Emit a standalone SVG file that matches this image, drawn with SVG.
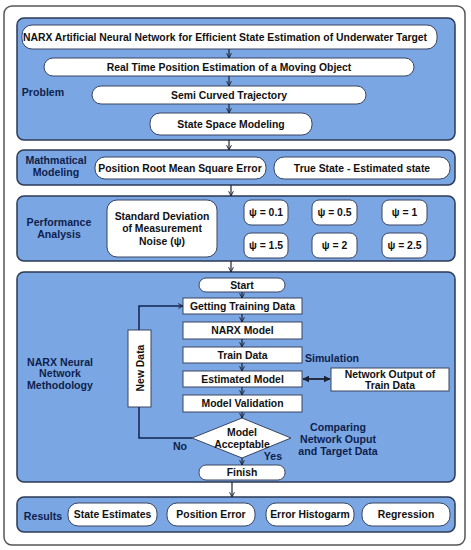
<svg xmlns="http://www.w3.org/2000/svg" width="471" height="550" viewBox="0 0 471 550">
<defs>
<marker id="ah" viewBox="0 0 10 10" refX="9" refY="5" markerWidth="6" markerHeight="6" orient="auto-start-reverse" markerUnits="userSpaceOnUse">
<path d="M1,1 L9,5 L1,9" fill="none" stroke="#1a2233" stroke-width="1.6"/>
</marker>
<marker id="ahs" viewBox="0 0 10 10" refX="9" refY="5" markerWidth="7" markerHeight="7" orient="auto-start-reverse" markerUnits="userSpaceOnUse">
<path d="M0,0 L10,5 L0,10 Z" fill="#1a2233"/>
</marker>
</defs>
<style>
.panel{fill:#7aa6e4;stroke:#2c3a55;stroke-width:1.5}
.box{fill:#ffffff;stroke:#3a4560;stroke-width:1}
.t{font-family:"Liberation Sans",Arial,sans-serif;font-weight:bold;font-size:10.4px;fill:#111;text-anchor:middle;dominant-baseline:central}
.lbl{font-family:"Liberation Sans",Arial,sans-serif;font-weight:bold;font-size:10.6px;fill:#0f1f4d;text-anchor:middle;dominant-baseline:central}
.ln{fill:none;stroke:#1a2233;stroke-width:1.2}
.nav{fill:none;stroke:#12254f;stroke-width:1.5}
</style>
<rect x="4" y="6" width="461" height="539" rx="8" fill="#ffffff" stroke="#555" stroke-width="1.5"/>

<g id="panel-problem">
<rect class="panel" x="17" y="18" width="438" height="122" rx="7"/>
<text class="lbl" x="43" y="92">Problem</text>
</g>
<g id="n-title"><rect class="box" x="22" y="25" width="415" height="24" rx="10"/><text class="t" x="225" y="37" font-size="10.1">NARX Artificial Neural Network for Efficient State Estimation of Underwater Target</text></g>
<g id="n-realtime"><rect class="box" x="44" y="58" width="370" height="18" rx="9"/><text class="t" x="229" y="67">Real Time Position Estimation of a Moving Object</text></g>
<g id="n-semi"><rect class="box" x="92" y="86" width="274" height="18" rx="9"/><text class="t" x="229" y="95">Semi Curved Trajectory</text></g>
<g id="n-ssm"><rect class="box" x="150" y="113" width="162" height="22" rx="10"/><text class="t" x="231" y="124">State Space Modeling</text></g>

<g id="panel-math">
<rect class="panel" x="17" y="150" width="438" height="35" rx="7"/>
<text class="lbl" x="56" y="160">Mathmatical</text>
<text class="lbl" x="56" y="172">Modeling</text>
</g>
<g id="n-prmse"><rect class="box" x="95" y="157" width="171" height="22" rx="10"/><text class="t" x="180" y="168">Position Root Mean Square Error</text></g>
<g id="n-truestate"><rect class="box" x="274" y="157" width="176" height="22" rx="10"/><text class="t" x="362" y="168">True State - Estimated state</text></g>

<g id="panel-perf">
<rect class="panel" x="17" y="196" width="438" height="65" rx="7"/>
<text class="lbl" x="59" y="222">Performance</text>
<text class="lbl" x="59" y="234">Analysis</text>
</g>
<g id="n-sd"><rect class="box" x="107" y="200" width="110" height="57" rx="10"/><text class="t" x="162" y="216">Standard Deviation</text><text class="t" x="162" y="228">of Measurement</text><text class="t" x="162" y="241">Noise (ψ)</text></g>
<g id="n-p01"><rect class="box" x="244" y="200" width="44" height="25" rx="7"/><text class="t" x="266" y="212.5" font-size="9.5">ψ = 0.1</text></g>
<g id="n-p05"><rect class="box" x="312" y="200" width="45" height="25" rx="7"/><text class="t" x="334.5" y="212.5" font-size="9.5">ψ = 0.5</text></g>
<g id="n-p1"><rect class="box" x="382" y="200" width="45" height="25" rx="7"/><text class="t" x="404.5" y="212.5" font-size="9.5">ψ = 1</text></g>
<g id="n-p15"><rect class="box" x="244" y="233" width="44" height="25" rx="7"/><text class="t" x="266" y="245.5" font-size="9.5">ψ = 1.5</text></g>
<g id="n-p2"><rect class="box" x="312" y="233" width="45" height="25" rx="7"/><text class="t" x="334.5" y="245.5" font-size="9.5">ψ = 2</text></g>
<g id="n-p25"><rect class="box" x="382" y="233" width="45" height="25" rx="7"/><text class="t" x="404.5" y="245.5" font-size="9.5">ψ = 2.5</text></g>

<g id="panel-narx">
<rect class="panel" x="17" y="272" width="438" height="210" rx="7"/>
<text class="lbl" x="60" y="362">NARX Neural</text>
<text class="lbl" x="60" y="373">Network</text>
<text class="lbl" x="60" y="385">Methodology</text>
<text class="lbl" x="332" y="358">Simulation</text>
<text class="lbl" x="338" y="427">Comparing</text>
<text class="lbl" x="338" y="439">Network Ouput</text>
<text class="lbl" x="338" y="451">and Target Data</text>
<text class="lbl" x="180" y="446">No</text>
<text class="lbl" x="273" y="456">Yes</text>
</g>
<g id="n-start"><rect class="box" x="199" y="278" width="86" height="14" rx="7"/><text class="t" x="242" y="285">Start</text></g>
<g id="n-gtd"><rect class="box" x="183" y="298" width="119" height="16"/><text class="t" x="242.5" y="306">Getting Training Data</text></g>
<g id="n-narxm"><rect class="box" x="183" y="322" width="119" height="17"/><text class="t" x="242.5" y="330.5">NARX Model</text></g>
<g id="n-train"><rect class="box" x="183" y="347" width="119" height="16"/><text class="t" x="242.5" y="355">Train Data</text></g>
<g id="n-est"><rect class="box" x="183" y="371" width="119" height="16"/><text class="t" x="242.5" y="379">Estimated Model</text></g>
<g id="n-val"><rect class="box" x="183" y="395" width="119" height="17"/><text class="t" x="242.5" y="403.5">Model Validation</text></g>
<g id="n-acc"><polygon class="box" points="242,418 291,438 242,458 192,438"/><text class="t" x="242" y="432">Model</text><text class="t" x="242" y="444">Acceptable</text></g>
<g id="n-finish"><rect class="box" x="199" y="465" width="86" height="15" rx="7"/><text class="t" x="242" y="472.5">Finish</text></g>
<g id="n-newdata"><rect class="box" x="128" y="330" width="23" height="77"/><text class="t" transform="translate(140,368) rotate(-90)" x="0" y="0">New Data</text></g>
<g id="n-netout"><rect class="box" x="331" y="368" width="118" height="23"/><text class="t" x="390" y="374">Network Output of</text><text class="t" x="390" y="385">Train Data</text></g>

<g id="panel-results">
<rect class="panel" x="17" y="497" width="438" height="35" rx="7"/>
<text class="lbl" x="43" y="516">Results</text>
</g>
<g id="n-se"><rect class="box" x="68" y="503" width="89" height="23" rx="10"/><text class="t" x="112.5" y="514">State Estimates</text></g>
<g id="n-pe"><rect class="box" x="167" y="503" width="88" height="23" rx="10"/><text class="t" x="211" y="514">Position Error</text></g>
<g id="n-eh"><rect class="box" x="266" y="503" width="88" height="23" rx="10"/><text class="t" x="310" y="514">Error Histogarm</text></g>
<g id="n-reg"><rect class="box" x="362" y="503" width="88" height="23" rx="10"/><text class="t" x="406" y="514">Regression</text></g>

<g id="connectors">
<line class="ln" x1="229" y1="49" x2="229" y2="58" marker-end="url(#ah)"/>
<line class="ln" x1="229" y1="76" x2="229" y2="86" marker-end="url(#ah)"/>
<line class="ln" x1="229" y1="104" x2="229" y2="113" marker-end="url(#ah)"/>
<line class="ln" x1="229" y1="140" x2="229" y2="150" marker-end="url(#ah)"/>
<line class="ln" x1="231" y1="185" x2="231" y2="196" marker-end="url(#ah)"/>
<line class="ln" x1="231" y1="261" x2="231" y2="272" marker-end="url(#ah)"/>
<line class="ln" x1="242" y1="292" x2="242" y2="298" marker-end="url(#ah)"/>
<line class="ln" x1="242" y1="314" x2="242" y2="322" marker-end="url(#ah)"/>
<line class="ln" x1="242" y1="339" x2="242" y2="347" marker-end="url(#ah)"/>
<line class="ln" x1="242" y1="363" x2="242" y2="371" marker-end="url(#ah)"/>
<line class="ln" x1="242" y1="387" x2="242" y2="395" marker-end="url(#ah)"/>
<line class="ln" x1="242" y1="412" x2="242" y2="418" marker-end="url(#ah)"/>
<line class="ln" x1="242" y1="458" x2="242" y2="465" marker-end="url(#ah)"/>
<line class="ln" x1="232" y1="482" x2="232" y2="497" marker-end="url(#ah)"/>
<polyline class="nav" points="139,330 139,306 183,306" marker-end="url(#ah)"/>
<polyline class="nav" points="139,407 139,438 192,438"/>
<line x1="303" y1="379" x2="330" y2="379" stroke="#1a2233" stroke-width="1.8" marker-start="url(#ahs)" marker-end="url(#ahs)"/>
</g>
</svg>
